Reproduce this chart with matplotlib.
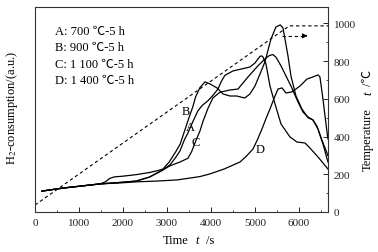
import matplotlib
matplotlib.use('Agg')
import matplotlib.pyplot as plt
from matplotlib.ticker import MultipleLocator

plt.rcParams['font.family'] = ['Liberation Serif', 'Noto Sans CJK SC', 'DejaVu Serif']
plt.rcParams['mathtext.fontset'] = 'stix'

# ---- data (time in s, values on temperature scale) ----
A_t = [160, 640, 1480, 2000, 2300, 2600, 2900, 3068, 3200, 3295, 3400, 3477, 3590, 3700, 3800, 3932,
       4050, 4159, 4240, 4318, 4500, 4705, 4886, 5000, 5080, 5114, 5150, 5182, 5250, 5341, 5455,
       5591, 5795, 5955, 6136, 6227, 6432, 6659]
A_v = [111, 127, 149, 158, 164, 185, 222, 250, 290, 324, 385, 420, 480, 535, 565, 590,
       620, 652, 695, 725, 748, 759, 769, 790, 815, 825, 828, 822, 785, 668, 573,
       467, 398, 371, 366, 345, 292, 228]

B_t = [160, 640, 1480, 1600, 1700, 1800, 2000, 2300, 2614, 2800, 2909, 3050, 3200, 3300, 3400, 3500,
       3590, 3650, 3750, 3864, 3977, 4136, 4273, 4432, 4591, 4700, 4773, 4886, 5000, 5114, 5227,
       5364, 5477, 5575, 5636, 5682, 5750, 5818, 5932, 6068, 6205, 6318, 6409, 6523, 6659]
B_v = [111, 127, 149, 160, 178, 186, 190, 198, 210, 220, 228, 265, 320, 360, 430, 500,
       560, 610, 660, 690, 679, 658, 626, 615, 615, 608, 605, 626, 668, 732, 796,
       918, 981, 992, 976, 918, 828, 721, 615, 546, 500, 488, 455, 380, 300]

C_t = [160, 640, 1480, 2000, 2300, 2600, 2900, 3068, 3295, 3477, 3560, 3660, 3750, 3818, 3932, 4045,
       4205, 4432, 4614, 4841, 5068, 5227, 5330, 5409, 5480, 5591, 5818, 5977, 6091, 6205, 6318,
       6432, 6545, 6659]
C_v = [111, 127, 149, 158, 164, 185, 222, 245, 265, 285, 320, 380, 430, 480, 550, 605,
       635, 647, 652, 716, 775, 812, 830, 835, 820, 775, 668, 584, 530, 504, 488,
       440, 361, 265]

D_t = [160, 640, 1480, 2000, 2300, 2770, 3227, 3523, 3750, 3977, 4300, 4659, 4800, 4955, 5059, 5159,
       5250, 5341, 5455, 5523, 5614, 5705, 5841, 6023, 6182, 6318, 6432, 6477, 6545, 6614, 6659]
D_v = [111, 127, 149, 155, 160, 164, 170, 180, 188, 202, 228, 265, 295, 334, 385, 440,
       495, 546, 615, 652, 658, 631, 637, 668, 705, 716, 727, 716, 600, 467, 387]

temp_t = [0, 5780, 6660]
temp_v = [37, 987, 987]

legend_lines = ["A: 700 \u2103-5 h", "B: 900 \u2103-5 h", "C: 1 100 \u2103-5 h", "D: 1 400 \u2103-5 h"]
x_ticks = [0, 1000, 2000, 3000, 4000, 5000, 6000]
y_ticks = [0, 200, 400, 600, 800, 1000]

W, H = 378, 253
fig = plt.figure(figsize=(W / 100, H / 100), dpi=100)
ax = fig.add_axes([35 / W, 40 / H, 293 / W, 205 / H])

lw = 0.9
for tt, vv in [(A_t, A_v), (B_t, B_v), (C_t, C_v), (D_t, D_v)]:
    ax.plot(tt, vv, color='black', lw=lw)

ax.plot(temp_t, temp_v, color='black', lw=0.8, linestyle=(0, (3, 2.5)))
ax.plot([5614, 6100], [934, 934], color='black', lw=0.8, linestyle=(0, (3, 2.5)))
ax.annotate('', xy=(6260, 934), xytext=(6080, 934),
            arrowprops=dict(arrowstyle='-|>', color='black', lw=0.8, mutation_scale=7))

ax.text(3432, 536, 'B', ha='center', va='center', fontsize=9)
ax.text(3523, 451, 'A', ha='center', va='center', fontsize=9)
ax.text(3659, 371, 'C', ha='center', va='center', fontsize=9)
ax.text(5114, 334, 'D', ha='center', va='center', fontsize=9)

for i, s in enumerate(legend_lines):
    fig.text(55 / W, 1 - (32 + i * 16.3) / H, s, ha='left', va='center', fontsize=9)

ax.set_xlim(0, 6660)
ax.set_ylim(0, 1087)
ax.set_xticks(x_ticks)
ax.set_yticks(y_ticks)
ax.xaxis.set_minor_locator(MultipleLocator(500))
ax.yaxis.set_minor_locator(MultipleLocator(100))
ax.tick_params(axis='both', which='both', direction='in', labelsize=8, colors='#222222')
ax.tick_params(axis='both', which='major', length=3.5, width=0.7, pad=4)
ax.tick_params(axis='both', which='minor', length=1.8, width=0.6)
ax.tick_params(axis='y', which='both', left=False, right=True, labelleft=False, labelright=True)
ax.tick_params(axis='x', which='both', top=False)
for sp in ax.spines.values():
    sp.set_linewidth(0.8)
    sp.set_color('#333333')

# axis labels
fig.text(12 / W, 1 - 108 / H, 'H$_2$-consumption/(a.u.)', rotation=90, ha='center', va='center', fontsize=9)
fig.text(368 / W, 1 - 140 / H, 'Temperature', rotation=90, ha='center', va='center', fontsize=9)
fig.text(368 / W, 1 - 93 / H, 't', rotation=90, ha='center', va='center', fontsize=9, style='italic')
fig.text(368 / W, 1 - 78 / H, '/\u2103', rotation=90, ha='center', va='center', fontsize=9)
fig.text(176 / W, 1 - 241 / H, 'Time', ha='center', va='center', fontsize=9)
fig.text(197 / W, 1 - 241 / H, 't', ha='center', va='center', fontsize=9, style='italic')
fig.text(210 / W, 1 - 241 / H, '/s', ha='center', va='center', fontsize=9)

fig.savefig('out.png', dpi=100)
